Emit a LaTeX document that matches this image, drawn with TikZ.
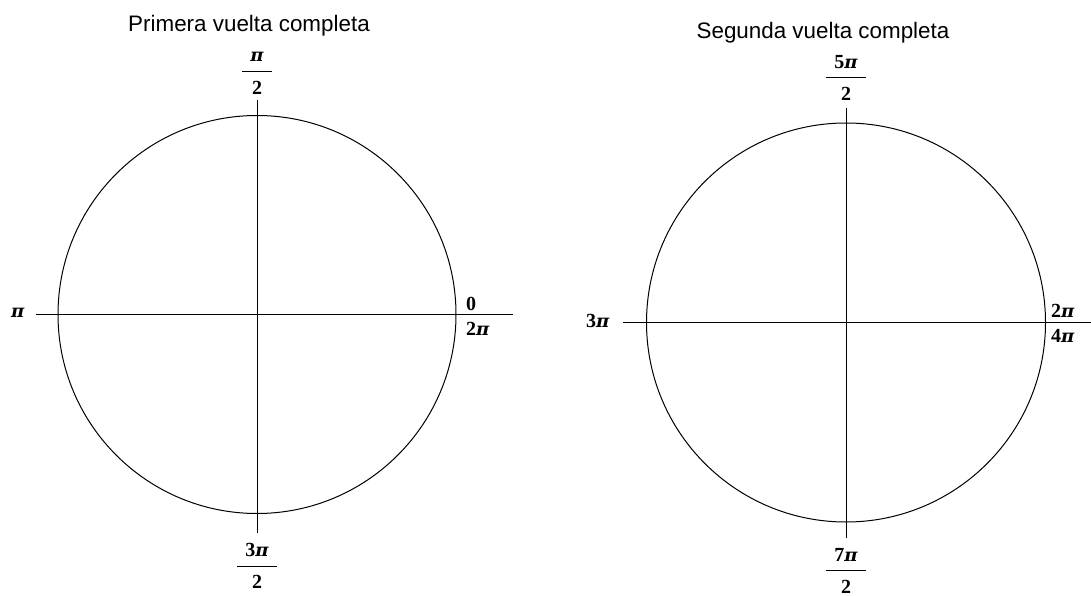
\documentclass[tikz,border=0pt]{standalone}
\usepackage{fontspec}
\setmainfont{Liberation Serif}
\newfontfamily\titlefont{Liberation Sans}
\newfontfamily\pifont{DejaVu Serif}
\setlength{\arrayrulewidth}{1pt}
\newcommand{\vpi}{{\pifont\fontsize{18}{22}\selectfont\bfseries\itshape π}}
\newcommand{\fracl}[2]{\begin{tabular}{@{\hspace{8pt}}c@{\hspace{8pt}}}#1\\[2pt]\hline\rule{0pt}{22pt}#2\end{tabular}}

\begin{document}
\begin{tikzpicture}[x=1pt,y=-1pt,
    ttl/.style={font=\titlefont\fontsize{22.4}{26}\selectfont,anchor=base,inner sep=0pt},
    lb/.style={font=\fontsize{20}{24}\selectfont\bfseries,inner sep=0pt},
    lbw/.style={lb,anchor=base west},
    ax/.style={line width=1pt},
  ]
    \useasboundingbox[fill=white] (0,0) rectangle (1091,596);

    % primera vuelta
    \coordinate (c1) at (257,314.5);
    \coordinate (w1) at (36,314.5);
    \coordinate (e1) at (513,314.5);
    \coordinate (n1) at (257,100);
    \coordinate (s1) at (257,533);
    \draw[ax] (c1) circle[radius=199];
    \draw[ax] (w1)--(e1);\draw[ax] (n1)--(s1);
    \node[ttl](t1) at (249,32) {Primera vuelta completa};
    \node[lb](p1n) at (257,73.3) {\fracl{\vpi}{2}};
    \node[lb](p1s) at (257,567.6) {\fracl{3\vpi}{2}};
    \node[lbw](p1w) at (11,317) {\vpi};
    \node[lbw](p1e) at (466,310) {0};
    \node[lbw](p1f) at (466,335) {2\vpi};

    % segunda vuelta
    \coordinate (c2) at (846,322.5);
    \coordinate (w2) at (623,322.5);
    \coordinate (e2) at (1091,322.5);
    \coordinate (n2) at (846,108);
    \coordinate (s2) at (846,538);
    \draw[ax] (c2) circle[radius=199.5];
    \draw[ax] (w2)--(e2);\draw[ax] (n2)--(s2);
    \node[ttl](t2) at (823,39) {Segunda vuelta completa};
    \node[lb](p2n) at (846,79.6) {\fracl{5\vpi}{2}};
    \node[lb](p2s) at (846,572.5) {\fracl{7\vpi}{2}};
    \node[lbw](p2w) at (586,327) {3\vpi};
    \node[lbw](p2e) at (1051,317) {2\vpi};
    \node[lbw](p2f) at (1051,342) {4\vpi};
  \end{tikzpicture}
\end{document}
